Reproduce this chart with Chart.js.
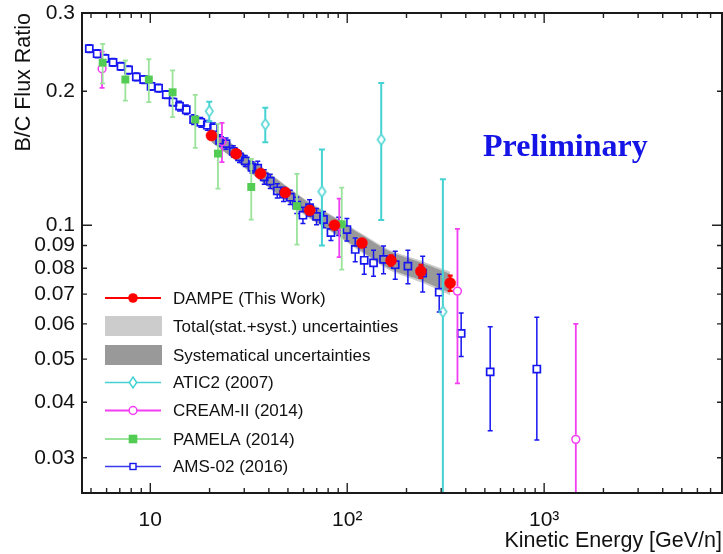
<!DOCTYPE html>
<html>
<head>
<meta charset="utf-8">
<script src="https://cdn.jsdelivr.net/npm/chart.js@4.4.1/dist/chart.umd.min.js"></script>
<style>
html,body{margin:0;padding:0;background:#ffffff;}
#wrap{width:723px;height:554px;position:relative;}
canvas{display:block;}
</style>
</head>
<body>
<div id="wrap"><canvas id="c" width="723" height="554" style="width:723px;height:554px"></canvas></div>
<script>
// ---------------- data ----------------
const amsE = [4.90,5.37,5.89,6.47,7.10,7.76,8.49,9.25,10.09,11.02,12.05,13.04,14.08,15.23,16.59,18.05,19.47,20.96,22.47,24.25,26.38,28.37,30.35,32.83,35.13,37.91,40.65,44.13,47.50,51.37,55.42,59.59,64.36,69.87,75.80,82.68,90.5,99.65,109.8,122.0,136.0,152.9,175.3,203.3,241.6,293.1,379,532,918];
const amsR = [0.2494,0.2430,0.2372,0.2324,0.2276,0.2234,0.2155,0.2126,0.2053,0.2034,0.1966,0.1892,0.1853,0.1818,0.1728,0.1704,0.1678,0.1656,0.1552,0.1526,0.1466,0.1425,0.1395,0.1350,0.1343,0.1285,0.1256,0.1195,0.1174,0.1156,0.1109,0.1053,0.1095,0.1047,0.1030,0.0963,0.0995,0.0978,0.0882,0.0834,0.0823,0.0838,0.0815,0.0809,0.0780,0.0707,0.0571,0.0468,0.0475];
const amsErr = [0.0050,0.0049,0.0047,0.0046,0.0046,0.0045,0.0043,0.0043,0.0041,0.0041,0.0039,0.0038,0.0046,0.0045,0.0043,0.0043,0.0042,0.0041,0.0045,0.0044,0.0043,0.0041,0.0040,0.0039,0.0050,0.0048,0.0046,0.0044,0.0043,0.0043,0.0047,0.0044,0.0046,0.0044,0.0043,0.0039,0.0047,0.0057,0.0054,0.0058,0.0055,0.0060,0.0059,0.0070,0.0072,0.0069,0.0064,0.0123,0.0146];

const dampeE = [20.45,27.26,36.29,48.45,64.5,86.2,118.8,166.9,236.6,333.3];
const dampeR = [0.1591,0.1448,0.1307,0.1184,0.1080,0.1000,0.0912,0.0833,0.0788,0.0741];
const dampeStat = [0.0010,0.0010,0.0011,0.0011,0.0012,0.0013,0.0016,0.0022,0.0027,0.0029];
const dampeSys = [0.0052,0.0049,0.0046,0.0043,0.0041,0.0040,0.0039,0.0037,0.0036,0.0036];
const dampeTot = [0.0057,0.0054,0.0051,0.0048,0.0046,0.0045,0.0045,0.0044,0.0044,0.0045];

const aticE = [19.93,38.36,74.4,148.8,306];
const aticR = [0.1804,0.1686,0.1190,0.1558,0.0639];
const aticErr = [0.009,0.015,0.029,0.053,0.063];

const creamE = [5.69,23.12,91.1,362.9,1448];
const creamR = [0.2247,0.1542,0.0998,0.0711,0.0330];
const creamErr = [0.021,0.0156,0.015,0.027,0.027];

const pamelaE = [5.73,7.47,9.83,12.98,16.92,22.06,32.56,55.55,93.8];
const pamelaR = [0.2320,0.2126,0.2126,0.1990,0.1728,0.1449,0.1219,0.1104,0.1005];
const pamelaErr = [0.0237,0.022,0.0235,0.024,0.0235,0.024,0.019,0.020,0.021];

// ---------------- ticks / texts ----------------
const xTickValues = [10, 100, 1000];
const xTickLabels = ['10', '10\u00B2', '10\u00B3'];
const xMinorTicks = [5,6,7,8,9,20,30,40,50,60,70,80,90,200,300,400,500,600,700,800,900,2000,3000,4000,5000,6000,7000];
const xMajorTicks = [10,100,1000];
const yTickValues = [0.03,0.04,0.05,0.06,0.07,0.08,0.09,0.1,0.2,0.3];
const yTickLabels = ['0.03','0.04','0.05','0.06','0.07','0.08','0.09','0.1','0.2','0.3'];
const yMinorTicks = [0.03,0.04,0.05,0.06,0.07,0.08,0.09,0.2];
const yMajorTicks = [0.1];
const xTitle = 'Kinetic Energy [GeV/n]';
const yTitle = 'B/C Flux Ratio';
const watermark = 'Preliminary';
const legendLabels = ['DAMPE (This Work)','Total(stat.+syst.) uncertainties','Systematical uncertainties','ATIC2 (2007)','CREAM-II (2014)','PAMELA (2014)','AMS-02 (2016)'];

// ---------------- styles ----------------
const FONT = "'Liberation Sans', Arial, Helvetica, sans-serif";
const C_RED = '#ff0000', C_CYAN = '#46d2d2', C_MAG = '#f23ef2', C_GRN = '#52cc52', C_GRN_L = '#9be39b', C_BLUE = '#1616f0';
const C_LIGHT = '#cccccc', C_DARK = '#999999';

const pts = (xs, ys) => xs.map((v, i) => ({x: v, y: ys[i]}));

function diamondCanvas(w, h, color, lw, fill) {
  const c = document.createElement('canvas');
  c.width = Math.ceil(w + lw * 2 + 2); c.height = Math.ceil(h + lw * 2 + 2);
  const g = c.getContext('2d');
  const cx = c.width / 2, cy = c.height / 2;
  g.beginPath();
  g.moveTo(cx, cy - h / 2); g.lineTo(cx + w / 2, cy); g.lineTo(cx, cy + h / 2); g.lineTo(cx - w / 2, cy); g.closePath();
  if (fill) { g.fillStyle = fill; g.fill(); }
  g.strokeStyle = color; g.lineWidth = lw; g.stroke();
  return c;
}
const aticMarker = diamondCanvas(7.5, 11, C_CYAN, 1.5, null);

// ---------------- plugins ----------------
const errorBars = {
  id: 'errorBars',
  beforeDatasetDraw(chart, args) {
    const ds = chart.data.datasets[args.index];
    if (!ds.errY) return;
    const {ctx, chartArea: a} = chart;
    const x = chart.scales.x, y = chart.scales.y;
    ctx.save();
    ctx.beginPath(); ctx.rect(a.left, a.top, a.right - a.left, a.bottom - a.top); ctx.clip();
    ctx.strokeStyle = ds.errColor; ctx.lineWidth = ds.errWidth; ctx.lineCap = 'butt';
    ds.data.forEach((p, i) => {
      const e = ds.errY[i];
      const px = x.getPixelForValue(p.x), py = y.getPixelForValue(p.y);
      const top = y.getPixelForValue(p.y + e);
      const lo = p.y - e;
      const bot = lo > 0.001 ? y.getPixelForValue(lo) : a.bottom + 20;
      const g = ds.errGap, c = ds.capW;
      ctx.beginPath();
      if (top < py - g) { ctx.moveTo(px, py - g); ctx.lineTo(px, top); }
      if (bot > py + g) { ctx.moveTo(px, py + g); ctx.lineTo(px, bot); }
      if (c) {
        ctx.moveTo(px - c, top); ctx.lineTo(px + c, top);
        if (lo > 0.001) { ctx.moveTo(px - c, bot); ctx.lineTo(px + c, bot); }
      }
      ctx.stroke();
    });
    ctx.restore();
  }
};

const frameAndDecor = {
  id: 'frameAndDecor',
  afterDraw(chart) {
    const {ctx, chartArea: a} = chart;
    const x = chart.scales.x, y = chart.scales.y;
    ctx.save();
    // ticks
    ctx.strokeStyle = '#222'; ctx.lineWidth = 1.4;
    ctx.beginPath();
    const xt = (v, L) => { const p = x.getPixelForValue(v); ctx.moveTo(p, a.bottom); ctx.lineTo(p, a.bottom - L); ctx.moveTo(p, a.top); ctx.lineTo(p, a.top + L); };
    const yt = (v, L) => { const p = y.getPixelForValue(v); ctx.moveTo(a.left, p); ctx.lineTo(a.left + L, p); ctx.moveTo(a.right, p); ctx.lineTo(a.right - L, p); };
    xMinorTicks.forEach(v => xt(v, 5)); xMajorTicks.forEach(v => xt(v, 10));
    yMinorTicks.forEach(v => yt(v, 5)); yMajorTicks.forEach(v => yt(v, 10));
    ctx.stroke();
    // frame
    ctx.strokeStyle = '#1a1a1a'; ctx.lineWidth = 2;
    ctx.strokeRect(a.left, a.top, a.right - a.left, a.bottom - a.top);

    // watermark
    ctx.fillStyle = '#1414e6';
    ctx.font = "bold 32px 'Liberation Serif', 'Times New Roman', serif";
    ctx.textBaseline = 'alphabetic'; ctx.textAlign = 'left';
    ctx.fillText(watermark, 483, 156);

    // legend
    const lx0 = 105, lx1 = 161, mx = 133, tx = 173;
    const rows = [298, 326, 355, 382.5, 410.5, 439, 466.5];
    ctx.font = '17px ' + FONT; ctx.textBaseline = 'middle'; ctx.textAlign = 'left';
    const line = (yy, col, lw) => { ctx.strokeStyle = col; ctx.lineWidth = lw; ctx.beginPath(); ctx.moveTo(lx0, yy); ctx.lineTo(lx1, yy); ctx.stroke(); };
    line(rows[0], C_RED, 2.2);
    ctx.fillStyle = C_RED; ctx.beginPath(); ctx.arc(mx, rows[0], 4.8, 0, Math.PI * 2); ctx.fill();
    ctx.fillStyle = C_LIGHT; ctx.fillRect(lx0, rows[1] - 10, lx1 - lx0 + 1, 20);
    ctx.fillStyle = C_DARK; ctx.fillRect(lx0, rows[2] - 10, lx1 - lx0 + 1, 20);
    line(rows[3], C_CYAN, 1.6);
    ctx.fillStyle = '#fff'; ctx.strokeStyle = C_CYAN; ctx.lineWidth = 1.5;
    ctx.beginPath(); ctx.moveTo(mx, rows[3] - 5.5); ctx.lineTo(mx + 3.7, rows[3]); ctx.lineTo(mx, rows[3] + 5.5); ctx.lineTo(mx - 3.7, rows[3]); ctx.closePath(); ctx.fill(); ctx.stroke();
    line(rows[4], C_MAG, 1.8);
    ctx.fillStyle = '#fff'; ctx.strokeStyle = C_MAG; ctx.lineWidth = 1.5;
    ctx.beginPath(); ctx.arc(mx, rows[4], 3.9, 0, Math.PI * 2); ctx.fill(); ctx.stroke();
    line(rows[5], C_GRN_L, 2);
    ctx.fillStyle = C_GRN; ctx.fillRect(mx - 4.3, rows[5] - 4.3, 8.6, 8.6);
    line(rows[6], '#3a3af0', 1.6);
    ctx.fillStyle = '#fff'; ctx.strokeStyle = C_BLUE; ctx.lineWidth = 1.4;
    ctx.fillRect(mx - 3, rows[6] - 3, 6, 6); ctx.strokeRect(mx - 3, rows[6] - 3, 6, 6);
    ctx.fillStyle = '#111';
    legendLabels.forEach((t, i) => ctx.fillText(t, tx, rows[i] + 1));
    ctx.restore();
  }
};

// ---------------- chart ----------------
const bandLo = (errs) => dampeR.map((r, i) => r - errs[i]);
const bandHi = (errs) => dampeR.map((r, i) => r + errs[i]);
const bandStyle = {type: 'line', borderWidth: 0, borderColor: 'rgba(0,0,0,0)', pointRadius: 0, tension: 0.25};
const TFONT = {family: FONT, size: 21.5};

new Chart(document.getElementById('c'), {
  type: 'scatter',
  data: {
    datasets: [
      {label: 'DAMPE (This Work)', data: pts(dampeE, dampeR), pointStyle: 'circle', pointRadius: 5.5,
       backgroundColor: C_RED, borderColor: C_RED, borderWidth: 0.5,
       errY: dampeStat, errColor: C_RED, errWidth: 2.2, errGap: 0, capW: 2.5, order: 0},
      {label: 'PAMELA (2014)', data: pts(pamelaE, pamelaR), pointStyle: 'rect', pointRadius: 5.6,
       backgroundColor: C_GRN, borderColor: C_GRN, borderWidth: 0,
       errY: pamelaErr, errColor: C_GRN_L, errWidth: 1.8, errGap: 3.5, capW: 2.5, order: 1},
      {label: 'CREAM-II (2014)', data: pts(creamE, creamR), pointStyle: 'circle', pointRadius: 3.9,
       backgroundColor: 'rgba(0,0,0,0)', borderColor: C_MAG, borderWidth: 1.5,
       errY: creamErr, errColor: C_MAG, errWidth: 1.8, errGap: 4.5, capW: 2.5, order: 2},
      {label: 'ATIC2 (2007)', data: pts(aticE, aticR), pointStyle: aticMarker, pointRadius: 6,
       backgroundColor: 'rgba(0,0,0,0)', borderColor: C_CYAN,
       errY: aticErr, errColor: C_CYAN, errWidth: 2, errGap: 5.5, capW: 3, order: 3},
      {label: 'AMS-02 (2016)', data: pts(amsE, amsR), pointStyle: 'rect', pointRadius: 5,
       backgroundColor: 'rgba(0,0,0,0)', borderColor: C_BLUE, borderWidth: 1.7,
       errY: amsErr, errColor: C_BLUE, errWidth: 1.5, errGap: 3.6, capW: 2.5, order: 4},
      Object.assign({label: 'sysLo', data: pts(dampeE, bandLo(dampeSys)), fill: false, order: 5}, bandStyle),
      Object.assign({label: 'sysHi', data: pts(dampeE, bandHi(dampeSys)), fill: '-1', backgroundColor: C_DARK, order: 5}, bandStyle),
      Object.assign({label: 'totLo', data: pts(dampeE, bandLo(dampeTot)), fill: false, order: 6}, bandStyle),
      Object.assign({label: 'totHi', data: pts(dampeE, bandHi(dampeTot)), fill: '-1', backgroundColor: C_LIGHT, order: 6}, bandStyle)
    ]
  },
  options: {
    responsive: false,
    animation: false,
    layout: {autoPadding: false, padding: {left: 0, right: 1, top: 13, bottom: 0}},
    plugins: {legend: {display: false}, tooltip: {enabled: false}},
    scales: {
      x: {
        type: 'logarithmic', min: 4.5, max: 8000, position: 'bottom',
        grid: {display: false, drawTicks: false}, border: {display: false},
        afterBuildTicks: s => { s.ticks = xTickValues.map(v => ({value: v})); },
        afterFit: s => { s.height = 61; s.paddingLeft = 0; s.paddingRight = 0; },
        ticks: {autoSkip: false, maxRotation: 0, minRotation: 0, padding: 15, color: '#111',
                font: {family: FONT, size: 21},
                callback: v => { const i = xTickValues.findIndex(t => Math.abs(t - v) < 1e-6); return i >= 0 ? xTickLabels[i] : null; }},
        title: {display: true, text: xTitle, align: 'end', color: '#111', font: TFONT, padding: {top: 0, bottom: 0}}
      },
      y: {
        type: 'logarithmic', min: 0.025, max: 0.3, position: 'left',
        grid: {display: false, drawTicks: false}, border: {display: false},
        afterBuildTicks: s => { s.ticks = yTickValues.map(v => ({value: v})); },
        afterFit: s => { s.width = 82; s.paddingTop = 0; s.paddingBottom = 0; },
        ticks: {autoSkip: false, padding: 7, color: '#111', font: {family: FONT, size: 21},
                callback: v => { const i = yTickValues.findIndex(t => Math.abs(t - v) < 1e-9); return i >= 0 ? yTickLabels[i] : null; }},
        title: {display: true, text: yTitle, align: 'end', color: '#111', font: TFONT, padding: {top: 11, bottom: 0}}
      }
    }
  },
  plugins: [errorBars, frameAndDecor]
});
</script>
</body>
</html>
